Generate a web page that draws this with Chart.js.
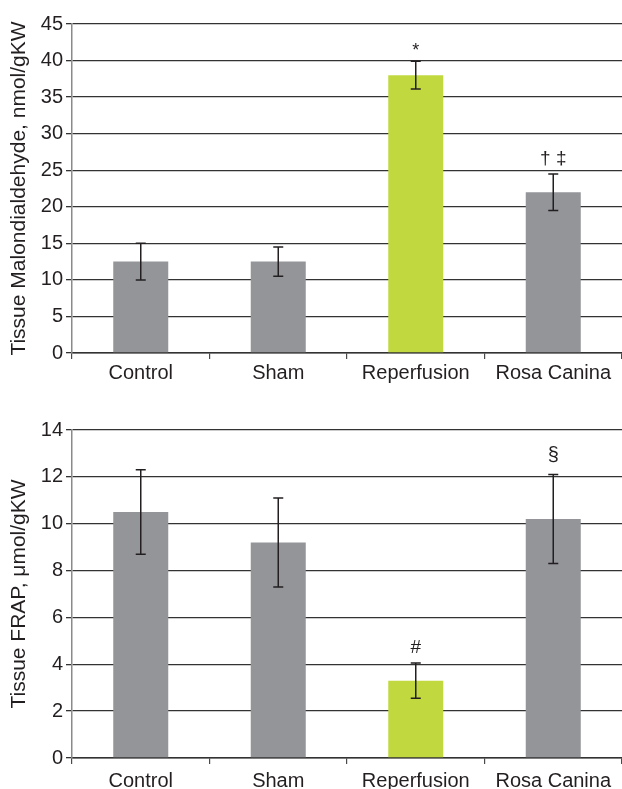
<!DOCTYPE html>
<html>
<head>
<meta charset="utf-8">
<script src="https://cdn.jsdelivr.net/npm/chart.js@4/dist/chart.umd.min.js"></script>
<style>
  html, body { margin: 0; padding: 0; background: #fff; }
  body { width: 622px; height: 789px; position: relative; overflow: hidden; }
  #c1 { position: absolute; left: 0; top: 0; }
  #c2 { position: absolute; left: 0; top: 395px; }
</style>
</head>
<body>
<canvas id="c1" width="622" height="395"></canvas>
<canvas id="c2" width="622" height="394"></canvas>
<script>
const categories = ['Control', 'Sham', 'Reperfusion', 'Rosa Canina'];

const mdaValues = [12.5, 12.5, 38, 22];
const mdaErrors = [2.5, 2.0, 1.9, 2.5];
const mdaMarks  = ['', '', '*', '\u2020 \u2021'];
const mdaTitle  = 'Tissue Malondialdehyde, nmol/gKW';
const mdaMax = 45, mdaStep = 5;

const frapValues = [10.5, 9.2, 3.3, 10.2];
const frapErrors = [1.8, 1.9, 0.75, 1.9];
const frapMarks  = ['', '', '#', '\u00A7'];
const frapTitle  = 'Tissue FRAP, \u03BCmol/gKW';
const frapMax = 14, frapStep = 2;

const GRAY = '#939598';
const GREEN = '#c1d83f';
const barColors = [GRAY, GRAY, GREEN, GRAY];
const FONT = "'Liberation Sans', Arial, Helvetica, sans-serif";

const errorPlugin = {
  id: 'errs',
  afterDatasetsDraw(chart, args, opts) {
    const ctx = chart.ctx;
    const xs = chart.scales.x, ys = chart.scales.y;
    ctx.save();
    ctx.strokeStyle = '#231f20';
    ctx.lineWidth = 1.5;
    opts.values.forEach((v, i) => {
      const e = opts.errors[i];
      const x = xs.getPixelForValue(i);
      const yTop = ys.getPixelForValue(v + e);
      const yBot = ys.getPixelForValue(v - e);
      ctx.beginPath();
      ctx.moveTo(x, yTop); ctx.lineTo(x, yBot);
      ctx.moveTo(x - 5, yTop); ctx.lineTo(x + 5, yTop);
      ctx.moveTo(x - 5, yBot); ctx.lineTo(x + 5, yBot);
      ctx.stroke();
      const m = opts.marks[i];
      if (m) {
        ctx.fillStyle = '#231f20';
        let size = 19, gap = 10;
        if (m === '*') { size = 18; gap = 5; }
        if (m === '\u00A7') { size = 20; gap = 14; }
        ctx.font = size + 'px ' + FONT;
        ctx.textAlign = 'center';
        ctx.textBaseline = 'alphabetic';
        ctx.fillText(m, x, yTop - gap);
      }
    });
    ctx.restore();
  }
};

function makeChart(id, values, errors, marks, title, max, step, padTop, xHeight, xPad) {
  return new Chart(document.getElementById(id), {
    type: 'bar',
    data: {
      labels: categories,
      datasets: [{
        data: values,
        backgroundColor: barColors,
        borderWidth: 0,
        categoryPercentage: 1.0,
        barPercentage: 0.4
      }]
    },
    options: {
      responsive: false,
      animation: false,
      devicePixelRatio: 1,
      layout: { padding: { top: padTop, left: 0, right: 0, bottom: 0 } },
      plugins: {
        legend: { display: false },
        tooltip: { enabled: false },
        errs: { values: values, errors: errors, marks: marks }
      },
      scales: {
        x: {
          grid: {
            offset: true,
            drawOnChartArea: false,
            drawTicks: true,
            tickLength: 6,
            color: '#4a4a4a',
            lineWidth: 1.2
          },
          border: { display: true, color: '#333333', width: 1.5 },
          ticks: {
            color: '#231f20',
            font: { family: FONT, size: 20 },
            padding: xPad,
            maxRotation: 0,
            autoSkip: false
          },
          afterFit(scale) { scale.height = xHeight; }
        },
        y: {
          min: 0,
          max: max,
          ticks: {
            stepSize: step,
            color: '#231f20',
            font: { family: FONT, size: 20 },
            padding: 3
          },
          grid: {
            color: '#333333',
            lineWidth: 1.3,
            drawTicks: true,
            tickLength: 6
          },
          border: { display: true, color: '#8a8a8a', width: 1.5 },
          title: {
            display: true,
            text: title,
            color: '#231f20',
            font: { family: FONT, size: 21 },
            padding: { top: 7, bottom: 0 }
          },
          afterFit(scale) { scale.width = 72; }
        }
      }
    },
    plugins: [errorPlugin]
  });
}

makeChart('c1', mdaValues, mdaErrors, mdaMarks, mdaTitle, mdaMax, mdaStep, 24, 42, 2);
makeChart('c2', frapValues, frapErrors, frapMarks, frapTitle, frapMax, frapStep, 35, 31, 5);
</script>
</body>
</html>
